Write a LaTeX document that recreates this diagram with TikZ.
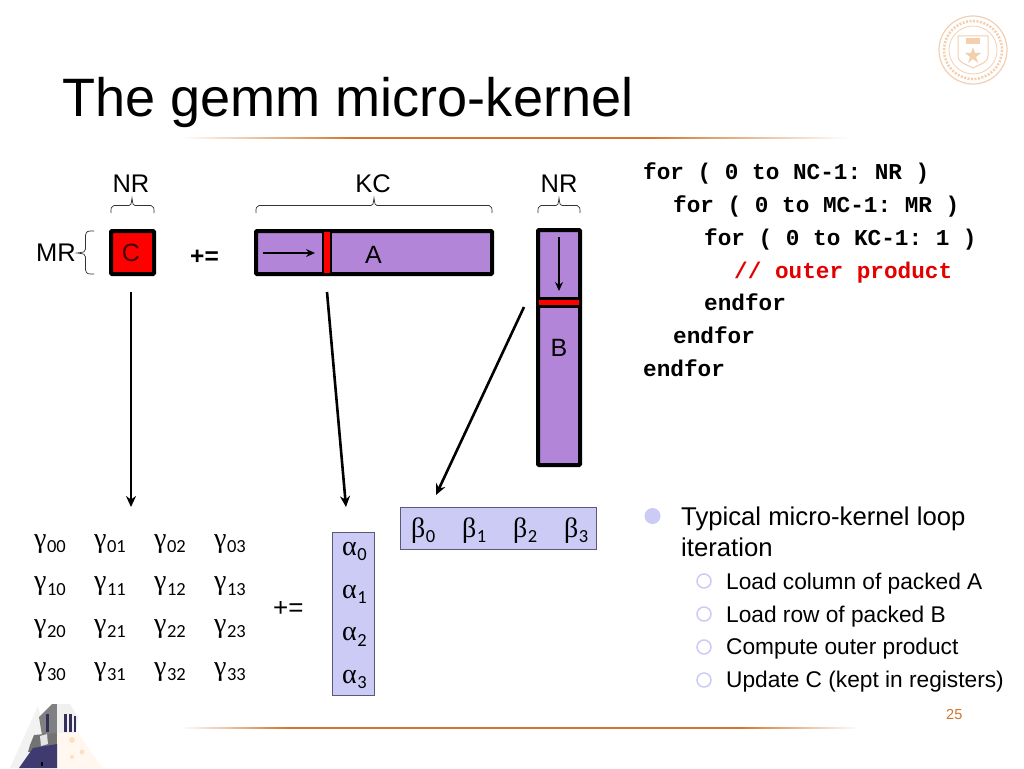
\documentclass[tikz,border=0pt]{standalone}
\usepackage{fontspec}
\setmainfont{Liberation Sans}
\newfontfamily\codefont{Liberation Mono}
\newfontfamily\greekfont{Liberation Serif}
\newfontfamily\subfont{Carlito}
\usetikzlibrary{arrows.meta}
\definecolor{matpurple}{HTML}{B385D8}
\definecolor{paleblue}{HTML}{CBCBF6}
\definecolor{bordergrey}{HTML}{5A5A78}
\definecolor{rulebrown}{HTML}{D2742C}
\definecolor{sealorange}{HTML}{F3CFB0}
\definecolor{towernavy}{HTML}{3F3B70}
\pgfdeclarehorizontalshading{titlefade}{100bp}{color(0bp)=(white); color(25bp)=(white); color(38bp)=(rulebrown); color(60bp)=(rulebrown); color(75bp)=(white); color(100bp)=(white)}
\pgfdeclarehorizontalshading{footfade}{100bp}{color(0bp)=(white); color(25bp)=(white); color(33bp)=(rulebrown); color(66bp)=(rulebrown); color(75bp)=(white); color(100bp)=(white)}
\newcommand{\fs}[1]{\fontsize{#1}{#1}\selectfont}
\newcommand{\gsym}[2]{{\greekfont\fs{28}#1}\kern.5pt\raisebox{-5.5pt}{\subfont\fs{18.5}#2}}
\tikzset{
  x=1pt,y=-1pt,
  lab/.style={inner sep=0pt,font=\fs{25.5}},
  base/.style={inner sep=0pt,anchor=base west},
  code/.style={base,font=\codefont\bfseries\fs{22.7}\frenchspacing},
  mat/.style={draw=black,line width=4pt,fill=matpurple,rounded corners=1pt,inner sep=0pt,outer sep=0pt,anchor=north west},
  strip/.style={draw=black,line width=2.5pt,fill=red,inner sep=0pt,outer sep=0pt,anchor=north west},
  vec/.style={draw=bordergrey,line width=1pt,fill=paleblue,inner sep=0pt,outer sep=0pt,anchor=north west},
  thin arrow/.style={line width=1.3pt,-{Stealth[length=9pt,width=8pt]}},
  big arrow/.style={line width=2.6pt,-{Stealth[length=11pt,width=10pt]}},
  sym/.style={base},
  subtext/.style={base,font=\fs{22.7}},
  maintext/.style={base,font=\fs{25.7}},
  dot/.style={circle,fill=paleblue,minimum size=16pt,inner sep=0pt},
  ring/.style={circle,draw=paleblue,line width=1.5pt,minimum size=14pt,inner sep=0pt},
  bracket/.style={line width=.7pt,draw=black!80},
}
\begin{document}
\begin{tikzpicture}
\useasboundingbox (0,0) rectangle (1024,768);
\fill[white] (0,0) rectangle (1024,768);
% rules
\shade[shading=titlefade] (180,137.6) rectangle (850,138.8);
\shade[shading=footfade] (180,727.6) rectangle (860,728.8);
% seal
\begin{scope}[draw=sealorange,fill=sealorange]
\draw[line width=1.2pt] (973,50) circle (34);
\draw[line width=.8pt] (973,50) circle (24);
\draw[line width=2.5pt,dash pattern=on 2pt off 1.5pt] (973,50) circle (29);
\draw[line width=1pt,fill=white] (958,36) -- (988,36) -- (988,56) .. controls (988,63) and (978,65) .. (973,68) .. controls (968,65) and (958,63) .. (958,56) -- cycle;
\fill (966,38) rectangle (980,44);
\fill (973,47) -- (975,53) -- (981,53) -- (976,57) -- (978,63) -- (973,59) -- (968,63) -- (970,57) -- (965,53) -- (971,53) -- cycle;
\end{scope}
% tower
\fill[black!5] (38,706) -- (10,768) -- (30,768) -- (45,735) -- cycle;
\fill[black!50] (39,717) -- (52,704) -- (57,704) -- (57,735) -- (42,735) -- cycle;
\fill[black!6] (57,704) -- (70,704) -- (78,717) -- (76,735) -- (57,735) -- cycle;
\fill[towernavy!80!black] (46,714) rectangle (49,732);
\fill[towernavy!80!black] (64,714) rectangle (66.5,732);
\fill[towernavy!80!black] (69,714) rectangle (71.5,732);
\fill[towernavy!80!black] (73.5,716) rectangle (75.5,732);
\fill[black!55] (30,745) -- (34,735) -- (57,733) -- (57,750) -- (28,752) -- cycle;
\fill[black!10] (40,736) -- (47,734) -- (48,744) -- (41,746) -- cycle;
\fill[orange!6!white] (57,733) -- (78,733) -- (102,768) -- (57,768) -- cycle;
\fill[orange!25!white] (72,740) circle (3);
\fill[orange!25!white] (82,752) circle (2.5);
\fill[orange!25!white] (72,757) circle (2);
\fill[towernavy] (33,748) -- (57,744) -- (57,768) -- (19,768) -- cycle;
\fill[black] (41,762) rectangle (43,766);
% title
\node[base,font=\fs{54.1}] (title) at (62,116) {The gemm micro-kernel};
% matrices
\node[mat,fill=red,minimum width=43pt,minimum height=43pt] (C) at (111,231) {};
\node[lab,font=\fs{25},text=black!75!red] (Cl) at (131,253) {C};
\node[mat,minimum width=236pt,minimum height=43pt] (A) at (256,231) {};
\node[strip,minimum width=8pt,minimum height=43pt] (Astrip) at (323,231) {};
\node[lab,font=\fs{25}] (Al) at (373.5,255) {A};
\node[mat,minimum width=42pt,minimum height=235pt] (B) at (538,230) {};
\node[strip,minimum width=42pt,minimum height=8pt] (Bstrip) at (538,298.5) {};
\node[lab,font=\fs{25}] (Bl) at (559,348) {B};
% labels and brackets
\node[lab] (nr1) at (131,184) {NR};
\node[lab] (kc) at (373,184) {KC};
\node[lab] (nr2) at (559,184) {NR};
\node[lab] (mr) at (56,253) {MR};
\node[base,font=\bfseries\fs{24.5}] (pe1) at (190,264) {+=};
\draw[bracket] (111,213) .. controls (111,207) .. (114,205.5) -- (129,205.5) .. controls (131,205) .. (132,198) .. controls (133,205) .. (135,205.5) -- (151,205.5) .. controls (154,207) .. (154,213);
\draw[bracket] (256,213) .. controls (256,207) .. (259,205.5) -- (371,205.5) .. controls (373,205) .. (374,198) .. controls (375,205) .. (377,205.5) -- (489,205.5) .. controls (492,207) .. (492,213);
\draw[bracket] (538,213) .. controls (538,207) .. (541,205.5) -- (556,205.5) .. controls (558,205) .. (559,198) .. controls (560,205) .. (562,205.5) -- (577,205.5) .. controls (580,207) .. (580,213);
\draw[bracket] (94,231) .. controls (87,231) .. (85.5,235) -- (85.5,249) .. controls (85,252) .. (77,253) .. controls (85,254) .. (85.5,257) -- (85.5,270) .. controls (87,274) .. (94,274);
% inner arrows
\coordinate (a1) at (263,253); \coordinate (a2) at (315,253);
\coordinate (b1) at (559,237); \coordinate (b2) at (559,291);
\draw[thin arrow] (a1) -- (a2);
\draw[thin arrow] (b1) -- (b2);
% big arrows
\coordinate (c1) at (131,292); \coordinate (c2) at (131,507);
\coordinate (d1) at (327,292); \coordinate (d2) at (346,507);
\coordinate (e1) at (524,307); \coordinate (e2) at (436,495);
\draw[big arrow] (c1) -- (c2);
\draw[big arrow] (d1) -- (d2);
\draw[big arrow] (e1) -- (e2);
% vectors
\node[vec,minimum width=42pt,minimum height=163pt] (alpha) at (332,532) {};
\node[vec,minimum width=196pt,minimum height=42pt] (beta) at (400,507) {};
\node[sym] (a0) at (342,555) {\gsym{α}{0}};
\node[sym] (a1t) at (342,598) {\gsym{α}{1}};
\node[sym] (a2t) at (342,640.5) {\gsym{α}{2}};
\node[sym] (a3t) at (342,683) {\gsym{α}{3}};
\node[sym] (b0) at (411,537) {\gsym{β}{0}};
\node[sym] (b1t) at (462,537) {\gsym{β}{1}};
\node[sym] (b2t) at (513,537) {\gsym{β}{2}};
\node[sym] (b3t) at (564,537) {\gsym{β}{3}};
% gamma
\node[sym] (g00) at (34,547) {\gsym{γ}{00}};
\node[sym] (g01) at (94,547) {\gsym{γ}{01}};
\node[sym] (g02) at (154,547) {\gsym{γ}{02}};
\node[sym] (g03) at (214,547) {\gsym{γ}{03}};
\node[sym] (g10) at (34,589.5) {\gsym{γ}{10}};
\node[sym] (g11) at (94,589.5) {\gsym{γ}{11}};
\node[sym] (g12) at (154,589.5) {\gsym{γ}{12}};
\node[sym] (g13) at (214,589.5) {\gsym{γ}{13}};
\node[sym] (g20) at (34,632) {\gsym{γ}{20}};
\node[sym] (g21) at (94,632) {\gsym{γ}{21}};
\node[sym] (g22) at (154,632) {\gsym{γ}{22}};
\node[sym] (g23) at (214,632) {\gsym{γ}{23}};
\node[sym] (g30) at (34,675) {\gsym{γ}{30}};
\node[sym] (g31) at (94,675) {\gsym{γ}{31}};
\node[sym] (g32) at (154,675) {\gsym{γ}{32}};
\node[sym] (g33) at (214,675) {\gsym{γ}{33}};
\node[base,font=\fs{26}] (pe2) at (273,616) {+=};
% code
\node[code] (l1) at (643,179) {for ( 0 to NC-1: NR )};
\node[code] (l2) at (673,212) {for ( 0 to MC-1: MR )};
\node[code] (l3) at (704,245) {for ( 0 to KC-1: 1 )};
\node[code,text=red!90!black] (l4) at (734,278) {// outer product};
\node[code] (l5) at (704,310) {endfor};
\node[code] (l6) at (673,343) {endfor};
\node[code] (l7) at (643,376) {endfor};
% bullets
\node[dot] (bul) at (652.5,516) {};
\node[maintext] (t1) at (681,525) {Typical micro-kernel loop};
\node[maintext] (t2) at (681,556) {iteration};
\node[ring] (r1) at (704,581) {};
\node[ring] (r2) at (704,614) {};
\node[ring] (r3) at (704,647) {};
\node[ring] (r4) at (704,680) {};
\node[subtext] (s1) at (726,589) {Load column of packed A};
\node[subtext] (s2) at (726,622) {Load row of packed B};
\node[subtext] (s3) at (726,654.5) {Compute outer product};
\node[subtext] (s4) at (726,687) {Update C (kept in registers)};
\node[base,font=\fs{14.5},text=rulebrown] (pg) at (946,719) {25};
\end{tikzpicture}
\end{document}
